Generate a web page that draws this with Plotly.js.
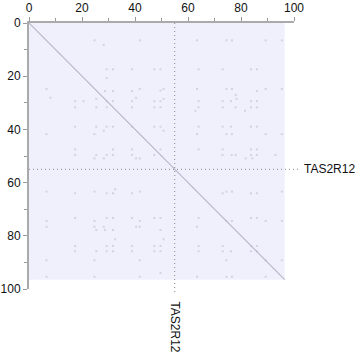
<!DOCTYPE html>
<html><head><meta charset="utf-8">
<script src="https://cdn.plot.ly/plotly-3.0.1.min.js"></script>
<style>html,body{margin:0;padding:0;background:#fff}#c{width:362px;height:355px}</style>
</head><body><div id="c"></div>
<script>
// sequence length and marked position
const seqLength = 96.5;
const markName = "TAS2R12";
const markPos = 55;
// diagonal (self match)
const diagX = [0, seqLength];
const diagY = [0, seqLength];
// scattered weak matches (position on x, position on y)
const dotX = [24.7,28.2,41.8,29.3,31.7,38.9,47.3,29.3,6.6,28.7,31.7,38.9,41.8,8.1,17.4,20.6,25.4,29.3,31.7,38.9,40.4,47.3,
  17.4,25.4,29.3,38.9,47.3,17.4,25.4,29.3,31.7,38.9,47.3,6.6,24.7,28.2,17.4,31.7,38.9,
  63.4,74.5,76.6,89.3,95.4,49.6,64.0,73.1,83.8,86.0,49.6,50.8,63.4,74.5,76.6,78.0,86.0,89.3,95.4,
  49.6,50.8,64.0,73.1,76.2,78.3,83.8,86.0,49.6,64.0,73.1,78.0,83.8,86.0,62.8,81.5,
  49.6,64.0,73.1,76.2,83.8,86.0,50.8,63.4,74.5,76.6,89.3,95.4,49.6,64.0,73.1,83.8,86.0,
  17.4,25.4,29.3,31.7,38.9,47.3,24.7,28.2,40.4,41.8,6.6,24.7,41.8,17.4,29.3,31.7,38.9,32.5,
  17.4,29.3,31.7,38.9,47.3,6.6,24.7,41.8,6.6,24.7,28.2,40.4,41.8,25.4,28.7,31.7,32.5,
  17.4,29.3,31.7,38.9,47.3,17.4,25.4,29.3,31.7,38.9,47.3,6.6,24.7,41.8,6.6,24.7,41.8,
  73.0,76.5,78.0,83.8,86.0,93.0,81.8,84.3,74.5,76.6,86.0,83.8,95.4,73.1,
  49.6,64.0,74.5,76.6,83.8,86.0,89.3,95.4,49.6,63.4,50.8,49.6,64.0,73.1,83.8,86.0,
  49.6,64.0,73.1,76.2,83.8,86.0,89.3,74.5,95.4,49.6,63.4,74.5,76.6,89.3];
const dotY = [6.5,8.2,6.5,17.4,17.4,17.4,17.4,20.7,24.8,25.6,25.6,25.6,24.8,28.1,29.4,29.4,28.5,29.4,29.4,29.4,28.1,29.4,
  31.7,31.7,31.7,31.7,31.7,39.0,39.0,39.0,39.0,39.0,39.0,41.8,41.8,40.5,47.5,47.5,47.5,
  6.5,6.5,6.5,6.5,6.5,17.4,17.4,17.4,17.4,17.4,25.4,24.8,24.8,24.8,24.8,27.0,25.6,24.8,24.8,
  29.4,28.5,29.4,29.4,29.4,28.5,29.4,29.4,31.7,31.7,31.7,31.7,31.7,31.7,33.0,33.0,
  39.0,39.0,39.0,39.0,39.0,39.0,40.5,41.8,41.8,41.8,41.8,41.8,47.5,47.5,47.5,47.5,47.5,
  49.6,49.6,49.6,49.6,49.6,49.6,50.9,50.9,50.9,50.9,63.4,63.4,63.4,64.0,64.0,64.0,64.0,62.5,
  73.3,73.3,73.3,73.3,73.3,74.4,74.4,74.4,76.6,76.6,76.6,76.6,76.6,77.8,77.8,77.8,81.3,
  83.8,83.8,83.8,83.8,83.8,85.8,85.8,85.8,85.8,85.8,85.8,89.2,89.2,89.2,95.4,95.4,95.4,
  49.6,49.6,49.6,49.6,49.6,49.6,50.9,50.9,63.4,63.4,64.0,64.0,63.4,64.0,
  73.3,73.3,74.4,74.4,73.3,73.3,74.4,74.4,77.8,76.6,81.3,83.8,83.8,83.8,83.8,83.8,
  85.8,85.8,85.8,85.8,85.8,85.8,89.2,89.2,89.2,94.0,95.4,95.4,95.4,95.4];

const fontFam = 'Arial, Liberation Sans, sans-serif';
const axisCommon = {
  range: [0, 100], dtick: 20, ticks: 'outside', ticklen: 4, tickwidth: 1, tickcolor: '#999',
  showline: true, linecolor: '#aaa', linewidth: 2, showgrid: false, zeroline: false,
  tickfont: {family: fontFam, size: 12, color: '#111'},
  minor: {dtick: 10, ticks: 'outside', ticklen: 3, tickcolor: '#999', showgrid: false},
  fixedrange: true
};

const traces = [
  {x: dotX, y: dotY, type: 'scatter', mode: 'markers', hoverinfo: 'skip',
   marker: {symbol: 'square', size: 2, color: '#d2d2e0', line: {width: 0}}},
  {x: diagX, y: diagY, type: 'scatter', mode: 'lines', hoverinfo: 'skip',
   line: {color: '#b6b6ca', width: 1.2}}
];

const layout = {
  width: 362, height: 355, showlegend: false,
  margin: {l: 29, r: 67.5, t: 23, b: 66, pad: 0},
  paper_bgcolor: '#fff', plot_bgcolor: '#fff',
  xaxis: Object.assign({}, axisCommon, {side: 'top'}),
  yaxis: Object.assign({}, axisCommon, {autorange: false, range: [100, 0]}),
  shapes: [
    {type: 'rect', xref: 'x', yref: 'y', x0: 0, x1: seqLength, y0: 0, y1: seqLength,
     fillcolor: '#f0f0fd', line: {width: 0}, layer: 'below'},
    {type: 'line', xref: 'paper', yref: 'paper', x0: 0, x1: 1.02,
     y0: 1 - markPos / 100, y1: 1 - markPos / 100,
     line: {color: '#888', width: 1, dash: '1px,3px'}},
    {type: 'line', xref: 'paper', yref: 'paper', x0: markPos / 100, x1: markPos / 100,
     y0: 1, y1: -0.016, line: {color: '#888', width: 1, dash: '1px,3px'}}
  ],
  annotations: [
    {text: markName, xref: 'paper', yref: 'paper', x: 1.03, y: 1 - markPos / 100,
     xanchor: 'left', yanchor: 'middle', showarrow: false,
     font: {family: fontFam, size: 12, color: '#111'}},
    {text: markName, xref: 'paper', yref: 'paper', x: markPos / 100, y: -0.04,
     xanchor: 'center', yanchor: 'top', showarrow: false, textangle: 90,
     font: {family: fontFam, size: 12, color: '#111'}}
  ]
};

Plotly.newPlot('c', traces, layout, {staticPlot: true, displayModeBar: false});
</script></body></html>
